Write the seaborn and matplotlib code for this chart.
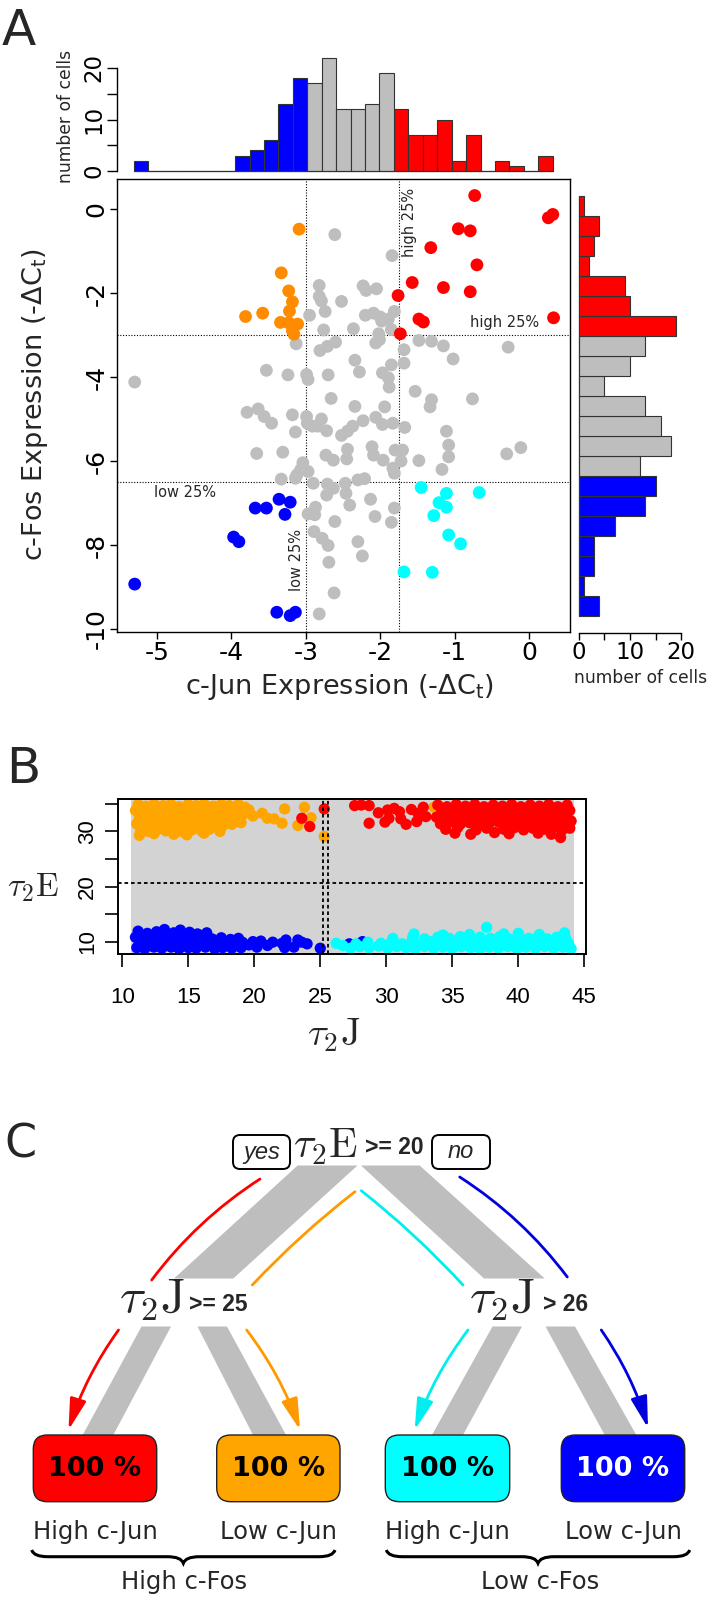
import numpy as np
import pandas as pd
import matplotlib
matplotlib.use("Agg")
import matplotlib.pyplot as plt
import seaborn as sns
from matplotlib import font_manager as fm
from matplotlib.patches import Polygon, FancyBboxPatch, FancyArrowPatch, PathPatch
from matplotlib.path import Path

# ======================= DATA =======================
# ---- Panel A: single-cell c-Jun / c-Fos expression (-dCt) ----
red_jun = [-0.73, 0.26, 0.32, -0.95, -0.79, -1.32, -0.70, -1.57, -1.15, -0.79, -1.76, -1.48, -1.42, 0.33, -1.73]
red_fos = [0.32, -0.21, -0.13, -0.47, -0.52, -0.92, -1.33, -1.75, -1.87, -1.97, -2.06, -2.62, -2.69, -2.59, -2.97]

orange_jun = [-3.09, -3.33, -3.23, -3.18, -3.22, -3.81, -3.58, -3.34, -3.23, -3.11, -3.18, -3.16]
orange_fos = [-0.48, -1.52, -1.95, -2.21, -2.43, -2.56, -2.48, -2.70, -2.71, -2.74, -2.90, -2.98]

grey_jun = [-2.61, -1.84, -2.82, -2.23, -2.19, -2.05, -2.82, -2.79, -2.52, -2.74, -2.95, -2.20, -2.09, -2.00,
            -1.98, -1.81, -1.89, -2.76, -2.36, -1.85, -2.02, -2.01, -2.06, -3.13, -2.60, -2.71, -2.81, -1.48,
            -1.31, -1.15, -1.68, -0.28, -1.02, -1.68, -2.34, -1.85, -2.28, -5.30, -3.53, -3.24, -2.99, -2.97,
            -2.70, -1.97, -1.89, -1.88, -1.53, -1.31, -1.33, -0.76, -2.66, -2.34, -1.94, -3.79, -3.64, -3.56,
            -3.46, -3.18, -2.99, -2.98, -2.91, -2.79, -2.84, -2.72, -3.14, -2.52, -2.44, -2.37, -2.23, -2.06,
            -1.97, -1.83, -1.67, -1.11,
            -3.66, -3.31, -2.73, -2.63, -2.44, -2.45, -2.11, -2.09, -1.96, -1.80, -1.70, -1.72, -1.48, -1.08,
            -1.08, -0.30, -0.11, -1.17, -1.83, -1.81, -3.04, -3.07, -2.97, -3.12, -3.33, -3.14, -2.90, -2.71,
            -2.63, -2.72, -2.47, -2.46, -2.30, -2.21, -2.13, -2.41, -1.81, -2.07, -2.87, -2.97, -2.88, -2.61,
            -1.85, -2.89, -2.78, -2.70, -2.30, -2.24, -2.69, -2.62, -2.82]
grey_fos = [-0.61, -1.11, -1.82, -1.83, -1.94, -1.90, -2.08, -2.19, -2.20, -2.44, -2.53, -2.53, -2.48, -2.57,
            -2.67, -2.44, -2.62, -2.88, -2.85, -2.87, -2.97, -3.11, -3.19, -3.21, -3.17, -3.27, -3.37, -3.13,
            -3.15, -3.26, -3.35, -3.29, -3.57, -3.67, -3.60, -3.71, -3.88, -4.12, -3.84, -3.95, -3.94, -4.06,
            -3.95, -3.90, -4.02, -4.24, -4.34, -4.54, -4.71, -4.52, -4.51, -4.70, -4.71, -4.84, -4.76, -4.94,
            -5.10, -4.90, -4.94, -5.10, -5.17, -5.00, -5.17, -5.28, -5.31, -5.39, -5.29, -5.17, -5.04, -4.96,
            -5.13, -5.10, -5.20, -5.29,
            -5.82, -5.79, -5.86, -5.98, -5.72, -5.95, -5.66, -5.86, -5.98, -5.74, -5.74, -6.00, -5.99, -5.62,
            -5.90, -5.83, -5.68, -6.20, -6.17, -6.29, -6.04, -6.21, -6.25, -6.33, -6.43, -6.41, -6.53, -6.55,
            -6.65, -6.81, -6.53, -6.77, -6.45, -6.42, -6.91, -7.05, -7.12, -7.32, -7.10, -7.26, -7.28, -7.44,
            -7.46, -7.68, -7.84, -8.01, -7.92, -8.26, -8.41, -9.14, -9.64]

blue_jun = [-5.30, -3.97, -3.90, -3.68, -3.53, -3.36, -3.21, -3.28, -3.39, -3.21, -3.14]
blue_fos = [-8.93, -7.81, -7.92, -7.12, -7.12, -6.91, -6.98, -7.27, -9.60, -9.68, -9.60]

cyan_jun = [-1.45, -1.11, -0.67, -1.21, -1.11, -1.28, -1.08, -0.92, -1.68, -1.30]
cyan_fos = [-6.63, -6.77, -6.75, -6.99, -7.10, -7.30, -7.76, -7.97, -8.64, -8.65]

jun_low_cut, jun_high_cut = -3.0, -1.75
fos_low_cut, fos_high_cut = -6.5, -3.0

# marginal histograms (counts)
jun_hist_counts = [2, 0, 0, 0, 0, 0, 0, 3, 4, 6, 13, 18, 17, 22, 12, 12, 13, 19, 12, 7, 7, 10, 2, 7, 0, 2, 1, 0, 3]
jun_hist_group = ["low"] * 12 + ["mid"] * 6 + ["high"] * 11
jun_hist_range = (-5.31, 0.32)
fos_hist_counts = [1, 4, 3, 2, 9, 10, 19, 13, 10, 5, 13, 16, 18, 12, 15, 13, 7, 3, 3, 1, 4]   # top -> bottom
fos_hist_group = ["high"] * 7 + ["mid"] * 7 + ["low"] * 7
fos_hist_range = (-9.70, 0.31)

# ---- Panel B: simulated tau2 J / tau2 E ----
orange_b = [(11.2,34.9),(11.8,34.6),(12.4,35.0),(13.1,34.7),(13.7,34.9),(14.3,34.5),(15.0,34.9),(15.6,34.7),
            (16.2,35.0),(16.9,34.6),(17.5,34.9),(18.1,34.7),(18.8,34.9),(19.3,34.4),
            (11.0,33.8),(11.6,33.5),(12.2,33.9),(12.9,33.6),(13.5,33.8),(14.1,33.4),(14.8,33.7),(15.4,33.9),
            (16.0,33.5),(16.7,33.8),(17.3,33.4),(17.9,33.9),(18.5,33.6),(19.2,33.2),(19.6,33.9),
            (11.3,32.6),(11.9,32.3),(12.6,32.7),(13.2,32.4),(13.8,32.6),(14.5,32.2),(15.1,32.6),(15.7,32.3),
            (16.4,32.7),(17.0,32.4),(17.7,32.2),(18.3,32.6),(18.9,32.0),
            (11.1,31.4),(11.7,31.1),(12.3,31.5),(13.0,31.2),(13.6,31.4),(14.2,31.0),(14.9,31.3),(15.5,31.5),
            (16.1,31.1),(16.8,31.4),(17.6,31.0),(18.3,31.3),(19.0,31.6),
            (11.4,30.2),(12.0,30.0),(12.7,30.4),(13.3,30.1),(14.0,30.3),(14.6,29.9),(15.3,30.3),(16.0,30.1),
            (16.6,30.4),(17.4,30.0),
            (11.3,29.3),(12.4,29.6),(13.9,29.5),(14.9,29.4),(16.2,29.7),
            (19.9,32.8),(20.6,33.3),(21.0,32.4),(21.5,32.3),(22.1,31.5),(22.3,34.1),(23.3,31.1),(23.8,34.4),
            (24.3,32.5),(25.3,29.1),(33.6,34.4)]
red_b = [(23.6,32.4),(24.2,30.9),(25.3,34.1),
         (27.6,34.7),(28.1,34.8),(28.7,34.7),(28.7,31.5),(29.4,33.4),(29.9,31.7),(30.1,33.9),(30.2,32.4),
         (30.6,34.2),(31.0,33.6),(31.1,32.3),(31.5,31.3),(31.9,34.0),(32.3,31.8),(32.4,33.3),(32.8,34.4),(33.0,32.7),
         (33.9,34.8),(34.6,34.5),(35.3,34.9),(36.0,34.6),(36.7,34.9),(37.4,34.5),(38.1,34.8),(38.8,34.6),
         (39.5,34.9),(40.2,34.5),(40.9,34.8),(41.6,34.6),(42.3,34.9),(43.0,34.5),(43.7,34.8),
         (34.2,33.6),(34.9,33.9),(35.6,33.5),(36.3,33.8),(37.0,33.4),(37.7,33.8),(38.4,33.5),(39.1,33.9),
         (39.8,33.6),(40.5,33.8),(41.2,33.4),(41.9,33.7),(42.6,33.9),(43.3,33.5),(43.9,33.8),
         (33.8,32.6),(34.5,32.3),(35.2,32.7),(35.9,32.4),(36.6,32.6),(37.3,32.2),(38.0,32.7),(38.7,32.4),
         (39.4,32.6),(40.1,32.3),(40.8,32.7),(41.5,32.4),(42.2,32.6),(42.9,32.2),(43.6,32.6),
         (34.1,31.4),(34.8,31.7),(35.6,31.3),(36.3,31.6),(37.1,31.2),(37.8,31.5),(38.5,31.7),(39.2,31.3),
         (39.9,31.6),(40.6,31.2),(41.3,31.5),(42.0,31.7),(42.7,31.3),(43.4,31.6),(44.0,31.9),
         (34.5,30.4),(35.4,30.7),(36.8,30.3),(37.6,30.6),(38.9,30.4),(39.7,30.7),(40.4,30.3),(41.1,30.6),
         (41.9,30.4),(42.6,30.7),(43.3,30.2),(43.9,30.6),
         (35.2,29.7),(36.4,29.5),(38.2,29.8),(39.3,29.6),(41.5,29.7),(42.5,29.5),(43.2,28.9)]
blue_b = [(11.2,11.9),(11.9,11.5),(12.6,11.8),(13.2,12.2),(13.9,11.6),(14.4,12.1),(15.1,11.7),(15.7,11.4),(16.4,11.6),
          (11.0,10.8),(11.6,10.5),(12.3,10.9),(12.9,10.6),(13.6,10.9),(14.2,10.5),(14.9,10.8),(15.5,10.6),
          (16.2,10.9),(16.8,10.5),(17.5,10.7),(18.2,10.4),(18.8,10.6),
          (11.3,9.8),(11.9,9.5),(12.6,9.9),(13.2,9.6),(13.9,9.9),(14.5,9.5),(15.2,9.8),(15.8,9.6),(16.5,9.9),
          (17.1,9.5),(17.8,9.8),(18.4,9.6),(19.1,9.9),(19.6,9.4),
          (11.1,8.9),(11.7,8.7),(12.4,9.0),(13.0,8.8),(13.7,9.0),(14.3,8.7),(15.0,8.9),(15.6,8.8),(16.3,9.0),
          (17.0,8.7),(17.6,8.9),(18.3,8.8),(19.0,8.9),
          (19.9,10.0),(20.5,10.1),(20.2,9.0),(21.0,9.3),(21.4,9.9),(22.1,9.7),(22.4,10.3),(22.3,8.9),(23.0,9.0),
          (23.3,10.3),(23.6,9.9),(24.0,9.6),(25.0,8.8),(27.2,9.6),(28.2,10.0)]
cyan_b = [(26.2,9.7),(26.7,9.3),
          (27.3,8.8),(28.0,9.1),(28.7,8.9),(29.4,9.2),(30.1,8.8),(30.8,9.1),(31.5,8.9),(32.2,8.7),(32.9,9.1),
          (33.6,8.8),(34.3,9.0),(35.0,8.7),(35.7,9.1),(36.4,8.9),(37.1,8.7),(37.8,9.0),(38.5,8.8),(39.2,9.1),
          (39.9,8.7),(40.6,9.0),(41.3,8.8),(42.0,9.1),(42.7,8.8),(43.4,9.0),(44.0,8.7),
          (27.7,9.6),(28.6,9.9),(29.6,9.7),(30.4,10.0),(31.2,9.6),(31.9,9.9),(32.6,9.7),(33.3,10.0),(34.0,9.6),
          (34.7,9.9),(35.4,9.7),(36.1,10.0),(36.8,9.6),(37.5,9.9),(38.2,9.7),(38.9,10.0),(39.6,9.6),(40.3,9.9),
          (41.0,9.7),(41.7,10.0),(42.4,9.6),(43.1,9.9),(43.8,9.7),
          (30.5,10.6),(32.0,10.8),(32.9,10.5),(33.9,10.8),(34.8,10.6),(35.6,10.9),(36.4,10.5),(37.1,10.8),
          (37.9,10.6),(38.6,10.9),(39.3,10.5),(40.1,10.8),(40.8,10.6),(41.5,10.9),(42.2,10.5),(42.9,10.8),(43.6,10.6),
          (32.1,11.4),(34.3,11.2),(36.3,11.3),(38.9,11.4),(40.0,11.5),(41.6,11.3),(43.5,11.6),(37.6,12.6)]
b_range = (10.66, 44.2)
tauE_cut = 20.7
tauJ_cuts = [25.23, 25.56]

# ---- Panel C: decision tree ----
root_rule = ">= 20"
left_rule = ">= 25"
right_rule = "> 26"
leaf_pct = ["100 %", "100 %", "100 %", "100 %"]
leaf_names = ["High c-Jun", "Low c-Jun", "High c-Jun", "Low c-Jun"]
group_names = ["High c-Fos", "Low c-Fos"]

# ======================= STYLE =======================
sns.set_theme(style="white")
plt.rcParams["font.family"] = ["DejaVu Sans"]
plt.rcParams["axes.unicode_minus"] = False
plt.rcParams["axes.edgecolor"] = "black"
plt.rcParams["xtick.color"] = "black"
plt.rcParams["ytick.color"] = "black"

avail = {f.name for f in fm.fontManager.ttflist}
NARROW = "Liberation Sans Narrow" if "Liberation Sans Narrow" in avail else "Liberation Sans"
LIB = "Liberation Sans"

W, H = 718, 1599
fig = plt.figure(figsize=(W / 100, H / 100), dpi=100)

def rect(l, t, r, b):
    return [l / W, 1 - b / H, (r - l) / W, (b - t) / H]

COL = {"red": "#FF0000", "orange": "#FF8C00", "grey": "#BEBEBE", "blue": "#0000FF", "cyan": "#00FFFF"}
HCOL = {"low": "#0000FF", "mid": "#BEBEBE", "high": "#FF0000"}

XL = (-5.534, 0.551)
YL = (-10.07, 0.714)

# ---------------- scatter ----------------
S = (117.3, 179, 570, 632)
ax = fig.add_axes(rect(*S))
dfA = pd.concat([
    pd.DataFrame({"jun": grey_jun, "fos": grey_fos, "g": "grey"}),
    pd.DataFrame({"jun": red_jun, "fos": red_fos, "g": "red"}),
    pd.DataFrame({"jun": orange_jun, "fos": orange_fos, "g": "orange"}),
    pd.DataFrame({"jun": blue_jun, "fos": blue_fos, "g": "blue"}),
    pd.DataFrame({"jun": cyan_jun, "fos": cyan_fos, "g": "cyan"}),
], ignore_index=True)
sns.scatterplot(data=dfA, x="jun", y="fos", hue="g", palette=COL, s=85, linewidth=0,
                legend=False, ax=ax, zorder=3)
ax.set_xlim(*XL); ax.set_ylim(*YL)
for v in (jun_low_cut, jun_high_cut):
    ax.axvline(v, color="black", lw=0.8, ls=(0, (1, 1.5)), zorder=2)
for v in (fos_low_cut, fos_high_cut):
    ax.axhline(v, color="black", lw=0.8, ls=(0, (1, 1.5)), zorder=2)
ax.text(-1.60, -0.31, "high 25%", rotation=90, ha="center", va="center", fontsize=10.5)
ax.text(-0.33, -2.71, "high 25%", ha="center", va="center", fontsize=10.5)
ax.text(-4.62, -6.76, "low 25%", ha="center", va="center", fontsize=10.5)
ax.text(-3.12, -8.36, "low 25%", rotation=90, ha="center", va="center", fontsize=10.5)
ax.set_xticks([-5, -4, -3, -2, -1, 0])
ax.set_yticks([-10, -8, -6, -4, -2, 0])
ax.tick_params(axis="both", direction="out", length=5, width=1, labelsize=18, pad=1.5,
               bottom=True, left=True)
plt.setp(ax.get_yticklabels(), rotation=90, va="center")
for sp in ax.spines.values():
    sp.set_linewidth(1.0); sp.set_color("black")
ax.set_xlabel("c-Jun Expression (-$\\Delta$C$_\\mathrm{t}$)", fontsize=19.5)
ax.set_ylabel("c-Fos Expression (-$\\Delta$C$_\\mathrm{t}$)", fontsize=19.5)
ax.xaxis.set_label_coords((339 - S[0]) / (S[2] - S[0]), (S[3] - 687) / (S[3] - S[1]))
ax.yaxis.set_label_coords((35 - S[0]) / (S[2] - S[0]), (S[3] - 405) / (S[3] - S[1]))
ax.xaxis.label.set_va("center"); ax.yaxis.label.set_va("center")

# ---------------- top histogram (c-Jun) ----------------
T = (117.3, 40, 570, 176)
axt = fig.add_axes(rect(*T))
jw = (jun_hist_range[1] - jun_hist_range[0]) / len(jun_hist_counts)
jcent = [jun_hist_range[0] + jw * (i + 0.5) for i in range(len(jun_hist_counts))]
dfJ = pd.DataFrame({"x": jcent, "w": jun_hist_counts, "g": jun_hist_group})
sns.histplot(data=dfJ, x="x", weights="w", hue="g", bins=len(jun_hist_counts), binrange=jun_hist_range,
             palette=HCOL, alpha=1, edgecolor="#333333", linewidth=0.8, legend=False, ax=axt)
axt.set_xlim(*XL)
axt.set_ylim(-(176 - 171) / 5.15, (171 - 40) / 5.15)
for s in ("top", "right", "bottom"):
    axt.spines[s].set_visible(False)
axt.spines["left"].set_bounds(0, 20)
axt.spines["left"].set_linewidth(1.0)
axt.set_xticks([])
axt.set_yticks([0, 5, 10, 15, 20])
axt.set_yticklabels(["0", "", "10", "", "20"], rotation=90, va="center")
axt.tick_params(axis="y", direction="out", length=7, width=1, labelsize=16.5, pad=1.5, left=True)
axt.set_xlabel("")
axt.set_ylabel("number of cells", fontsize=12.3)
axt.yaxis.set_label_coords((66 - T[0]) / (T[2] - T[0]), (T[3] - 116) / (T[3] - T[1]))
axt.yaxis.label.set_va("center")
axt.patch.set_alpha(0)

# ---------------- right histogram (c-Fos) ----------------
R = (574, 179, 712, 632.5)
axr = fig.add_axes(rect(*R))
fw = (fos_hist_range[1] - fos_hist_range[0]) / len(fos_hist_counts)
fcent = [fos_hist_range[1] - fw * (i + 0.5) for i in range(len(fos_hist_counts))]   # top -> bottom
dfF = pd.DataFrame({"y": fcent, "w": fos_hist_counts, "g": fos_hist_group})
sns.histplot(data=dfF, y="y", weights="w", hue="g", bins=len(fos_hist_counts), binrange=fos_hist_range,
             palette=HCOL, alpha=1, edgecolor="#333333", linewidth=0.8, legend=False, ax=axr)
axr.set_ylim(YL[0] - 0.5 / 42, YL[1])
axr.set_xlim(-(578.7 - 574) / 5.13, (712 - 578.7) / 5.13)
for s in ("top", "right", "left"):
    axr.spines[s].set_visible(False)
axr.spines["bottom"].set_bounds(0, 20)
axr.spines["bottom"].set_linewidth(1.0)
axr.set_yticks([])
axr.set_xticks([0, 5, 10, 15, 20])
axr.set_xticklabels(["0", "", "10", "", "20"])
axr.tick_params(axis="x", direction="out", length=5.2, width=1, labelsize=16.5, pad=1.0, bottom=True)
axr.set_ylabel("")
axr.set_xlabel("number of cells", fontsize=12.3)
axr.xaxis.set_label_coords((641 - R[0]) / (R[2] - R[0]), (R[3] - 683) / (R[3] - R[1]))
axr.xaxis.label.set_va("baseline")
axr.patch.set_alpha(0)

# ---------------- panel B ----------------
B = (118.3, 799, 586.3, 954.3)
axb = fig.add_axes(rect(*B))
dfB = pd.concat([
    pd.DataFrame({"J": [p[0] for p in orange_b], "E": [p[1] for p in orange_b], "g": "orange"}),
    pd.DataFrame({"J": [p[0] for p in red_b], "E": [p[1] for p in red_b], "g": "red"}),
    pd.DataFrame({"J": [p[0] for p in blue_b], "E": [p[1] for p in blue_b], "g": "blue"}),
    pd.DataFrame({"J": [p[0] for p in cyan_b], "E": [p[1] for p in cyan_b], "g": "cyan"}),
], ignore_index=True)
BCOL = {"orange": "#FFA500", "red": "#FF0000", "blue": "#0000FF", "cyan": "#00FFFF"}
axb.axvspan(b_range[0], b_range[1], color="#D3D3D3", zorder=0, lw=0)
sns.scatterplot(data=dfB, x="J", y="E", hue="g", palette=BCOL, s=66, linewidth=0,
                legend=False, ax=axb, zorder=2)
axb.axhline(tauE_cut, color="black", lw=1.3, ls=(0, (2, 1.6)), zorder=3)
for v in tauJ_cuts:
    axb.axvline(v, color="black", lw=1.3, ls=(0, (2, 1.6)), zorder=3)
axb.set_xlim(9.70, 45.15); axb.set_ylim(7.7, 35.9)
axb.set_xticks([10, 15, 20, 25, 30, 35, 40, 45])
axb.set_yticks([10, 15, 20, 25, 30, 35])
axb.set_yticklabels(["10", "", "20", "", "30", ""], rotation=90, va="center")
axb.tick_params(axis="both", direction="out", length=9.5, width=1.2, labelsize=16, pad=14,
                bottom=True, left=True)
axb.tick_params(axis="y", pad=5)
for lab in axb.get_xticklabels() + axb.get_yticklabels():
    lab.set_family(NARROW)
for sp in axb.spines.values():
    sp.set_linewidth(1.4); sp.set_color("black")
axb.set_xlabel(r"$\tau_2\mathrm{J}$", fontsize=28, math_fontfamily="cm")
axb.set_ylabel(r"$\tau_2\mathrm{E}$", fontsize=24, math_fontfamily="cm", rotation=0)
axb.xaxis.set_label_coords((334 - B[0]) / (B[2] - B[0]), (B[3] - 1035) / (B[3] - B[1]))
axb.yaxis.set_label_coords((33 - B[0]) / (B[2] - B[0]), (B[3] - 888) / (B[3] - B[1]))
axb.xaxis.label.set_va("center"); axb.yaxis.label.set_va("center"); axb.yaxis.label.set_ha("center")

# ---------------- overlay (panel labels + panel C) ----------------
axo = fig.add_axes([0, 0, 1, 1])
axo.set_xlim(0, W); axo.set_ylim(H, 0)
axo.axis("off")
axo.patch.set_alpha(0)

axo.text(2, 45, "A", fontsize=36, ha="left", va="baseline")
axo.text(6, 783, "B", fontsize=36, ha="left", va="baseline")
axo.text(4, 1157, "C", fontsize=33, ha="left", va="baseline")

GB = "#BEBEBE"
bands = [
    [(297.6, 1165.5), (357.5, 1165.5), (233.3, 1278.5), (174.0, 1278.5)],
    [(361.0, 1165.5), (419.7, 1165.5), (544.7, 1278.5), (484.0, 1278.5)],
    [(141.5, 1326.5), (171.0, 1326.5), (113.3, 1435), (82.7, 1435)],
    [(197.5, 1326.5), (227.0, 1326.5), (286.0, 1435), (253.0, 1435)],
    [(492.5, 1326.5), (522.0, 1326.5), (463.0, 1435), (432.0, 1435)],
    [(545.5, 1326.5), (575.0, 1326.5), (636.3, 1435), (604.7, 1435)],
]
for poly in bands:
    axo.add_patch(Polygon(poly, closed=True, facecolor=GB, edgecolor="none", zorder=1))

# top node
for (x0, x1, txt) in [(233, 290, "yes"), (432, 490, "no")]:
    axo.add_patch(FancyBboxPatch((x0, 1135), x1 - x0, 34, boxstyle="round,pad=0,rounding_size=7",
                                 facecolor="white", edgecolor="black", lw=1.4, zorder=4))
    axo.text((x0 + x1) / 2, 1152, txt, fontsize=17, style="italic", family=LIB,
             ha="center", va="center", zorder=5)
axo.text(293, 1158, r"$\tau_2\mathrm{E}$", fontsize=30, math_fontfamily="cm", ha="left", va="baseline", zorder=5)
axo.text(365, 1154, root_rule, fontsize=16.5, weight="bold", family=LIB, ha="left", va="baseline", zorder=5)
# second level nodes
axo.text(119, 1313, r"$\tau_2\mathrm{J}$", fontsize=35, math_fontfamily="cm", ha="left", va="baseline", zorder=5)
axo.text(189, 1311, left_rule, fontsize=16.5, weight="bold", family=LIB, ha="left", va="baseline", zorder=5)
axo.text(469, 1313, r"$\tau_2\mathrm{J}$", fontsize=35, math_fontfamily="cm", ha="left", va="baseline", zorder=5)
axo.text(543, 1311, right_rule, fontsize=16.5, weight="bold", family=LIB, ha="left", va="baseline", zorder=5)

# arrows
def arrow(p0, p1, col, rad, head):
    style = "-|>,head_length=1.9,head_width=0.5" if head else "-"
    a = FancyArrowPatch(p0, p1, connectionstyle=f"arc3,rad={rad}", arrowstyle=style,
                        mutation_scale=10, color=col, lw=2.0, shrinkA=0, shrinkB=0, zorder=2)
    axo.add_patch(a)

arrow((260, 1179), (151.7, 1280), "#FF0000", 0.09, False)
arrow((118.5, 1330), (68.5, 1430), "#FF0000", 0.08, True)
arrow((355, 1191.7), (252.3, 1285), "#FF9900", 0.04, False)
arrow((246.7, 1330), (300, 1430), "#FF9900", -0.08, True)
arrow((361.3, 1190.7), (463, 1285), "#00EEEE", -0.04, False)
arrow((468, 1330), (414.7, 1430), "#00EEEE", 0.08, True)
arrow((459.7, 1177), (567.3, 1277), "#0000DD", -0.09, False)
arrow((601.3, 1330), (648, 1428), "#0000DD", -0.08, True)

# leaves
LEAF_COL = ["#FF0000", "#FFA500", "#00FFFF", "#0000FF"]
LEAF_TXT = ["black", "black", "black", "white"]
leaf_x = [(33.3, 156.7), (216.7, 340.0), (385.3, 509.7), (561.3, 684.7)]
for (x0, x1), fc, tc, pct, nm in zip(leaf_x, LEAF_COL, LEAF_TXT, leaf_pct, leaf_names):
    axo.add_patch(FancyBboxPatch((x0, 1435), x1 - x0, 66.7, boxstyle="round,pad=0,rounding_size=14",
                                 facecolor=fc, edgecolor="#222222", lw=1.0, zorder=3))
    axo.text((x0 + x1) / 2, 1469, pct, fontsize=19.5, weight="bold", color=tc,
             ha="center", va="center", zorder=4)
    axo.text((x0 + x1) / 2, 1532, nm, fontsize=17.5, ha="center", va="center", zorder=4)

def brace(x0, x1, y0=1550, ybody=1556.7, ytip=1563.3):
    xm = (x0 + x1) / 2
    verts = [(x0, y0), (x0 + 2, ybody), (x0 + 16, ybody),
             (xm - 16, ybody), (xm - 2, ybody), (xm, ytip),
             (xm + 2, ybody), (xm + 16, ybody),
             (x1 - 16, ybody), (x1 - 2, ybody), (x1, y0)]
    codes = [Path.MOVETO, Path.CURVE3, Path.CURVE3,
             Path.LINETO, Path.CURVE3, Path.CURVE3,
             Path.CURVE3, Path.CURVE3,
             Path.LINETO, Path.CURVE3, Path.CURVE3]
    axo.add_patch(PathPatch(Path(verts, codes), facecolor="none", edgecolor="black", lw=2.2, zorder=3))

brace(31.7, 335)
brace(386.3, 689.7)
axo.text(184, 1582, group_names[0], fontsize=17.5, ha="center", va="center")
axo.text(540, 1582, group_names[1], fontsize=17.5, ha="center", va="center")

fig.savefig("out.png", dpi=100)
